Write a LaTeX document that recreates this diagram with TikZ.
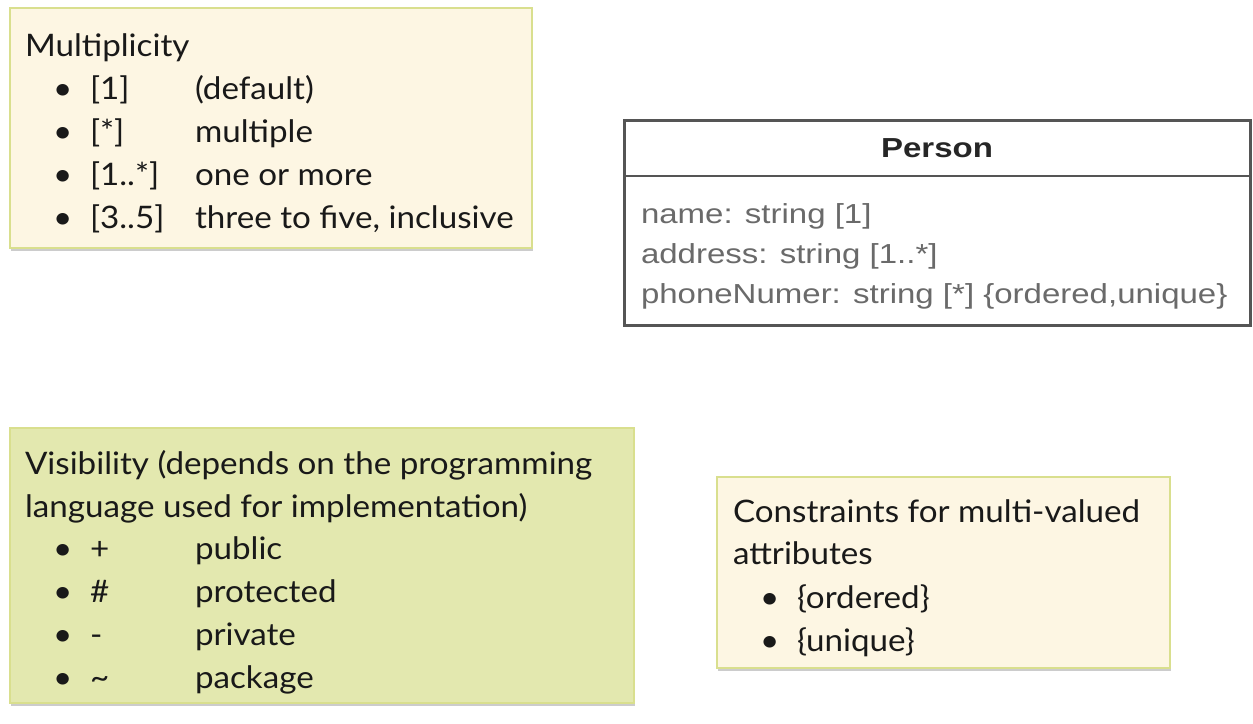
\documentclass[tikz,border=0pt]{standalone}
\usepackage{fontspec}
\setmainfont[FakeStretch=1.07]{Lato}
\newfontfamily\umlfont[FakeStretch=1.2]{Liberation Sans}
\usetikzlibrary{positioning}
\usetikzlibrary{shadows}

\definecolor{notecream}{HTML}{FDF6E3}
\definecolor{noteline}{HTML}{D9DF8E}
\definecolor{notegreen}{HTML}{E3E8AF}
\definecolor{umlline}{HTML}{555555}
\definecolor{umltext}{HTML}{6A6A6A}

\newcommand\notesize{\fontsize{31}{36}\selectfont}
\newcommand\umlsize{\fontsize{27.5}{32}\selectfont}

\begin{document}
\begin{tikzpicture}[x=1pt,y=-1pt,
  every node/.style={inner sep=0pt,outer sep=0pt},
  note/.style={draw=noteline,line width=1.5pt,fill=notecream,anchor=north west,
    drop shadow={shadow xshift=1pt,shadow yshift=-3pt,fill=black!40,opacity=.5}},
  txt/.style={anchor=base west,font=\notesize,text=black!90},
  umlbox/.style={draw=umlline,line width=3pt,fill=white,anchor=north west},
  attr/.style={anchor=base west,font=\umlfont\umlsize,text=umltext},
]
  \useasboundingbox (0,0) rectangle (1253,723);

  % boxes
  \node[note,minimum width=522pt,minimum height=240pt] (mult) at (10,8) {};
  \node[note,fill=notegreen,minimum width=624pt,minimum height=275pt] (vis) at (10,428) {};
  \node[note,minimum width=453pt,minimum height=191pt] (cons) at (717,477) {};
  \node[umlbox,minimum width=626pt,minimum height=205pt] (person) at (624,120) {};
  \draw[umlline,line width=2.5pt] ([yshift=-56pt]person.north west) -- ([yshift=-56pt]person.north east);

  % multiplicity
  \node[txt] (multT) at (25,56) {Multiplicity};
  \foreach \y/\k/\t in {99/{[1]}/{(default)},142/{[*]}/{multiple},185/{[1..*]}/{one or more},228/{[3..5]}/{three to five, inclusive}}{
    \node[txt] at (53,\y) {•};
    \node[txt] at (90,\y) {\k};
    \node[txt] at (195,\y) {\t};
  }

  % visibility
  \node[txt] (visT) at (25,474) {Visibility (depends on the programming};
  \node[txt] (visT2) at (25,517) {language used for implementation)};
  \foreach \y/\k/\t in {559/+/public,602/\#/protected,645/-/private,688/\textasciitilde/package}{
    \node[txt] at (53,\y) {•};
    \node[txt] at (90,\y) {\k};
    \node[txt] at (195,\y) {\t};
  }

  % constraints
  \node[txt] (consT) at (733,522) {Constraints for multi-valued};
  \node[txt] (consT2) at (733,564) {attributes};
  \foreach \y/\t in {608/{\{ordered\}},651/{\{unique\}}}{
    \node[txt] at (760,\y) {•};
    \node[txt] at (797,\y) {\t};
  }

  % person class
  \node[anchor=base,font=\umlfont\umlsize\bfseries,text=black!85] (pname) at ([yshift=-37pt]person.north) {Person};
  \node[attr] (a1) at (641,223) {name: string [1]};
  \node[attr] (a2) at (641,263) {address: string [1..*]};
  \node[attr] (a3) at (641,303) {phoneNumer: string [*] \{ordered,unique\}};
\end{tikzpicture}
\end{document}
